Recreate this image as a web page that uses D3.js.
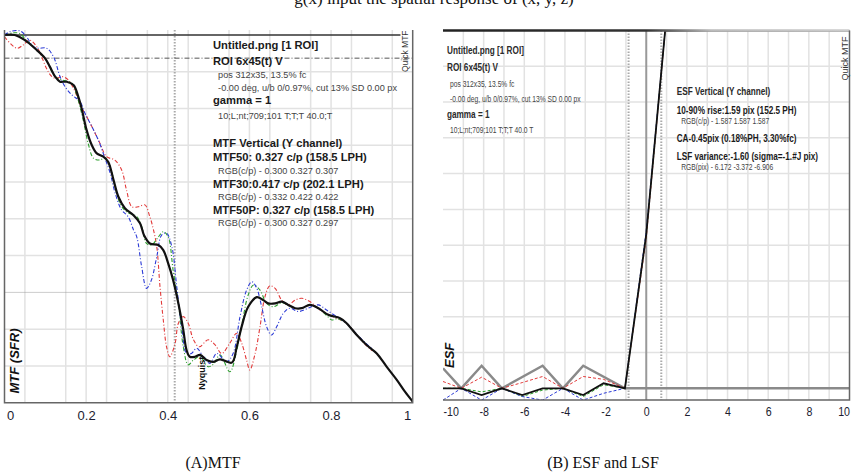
<!DOCTYPE html>
<html>
<head>
<meta charset="utf-8">
<script src="https://cdn.jsdelivr.net/npm/d3@7"></script>
<style>
  body { margin: 0; background: #fff; }
  text { font-family: "Liberation Sans", Arial, sans-serif; }
  .serif { font-family: "Liberation Serif", "Times New Roman", serif; fill: #111; }
  .grid { stroke: #e2e2e2; stroke-width: 1.5; fill: none; }
  .border { stroke: #666; stroke-width: 1.5; fill: none; }
  .tick text { fill: #1c1c30; font-size: 13px; }
  .bold { font-weight: bold; font-size: 11px; fill: #1a1a1a; }
  .reg { font-weight: bold; font-size: 11px; fill: #2a2a2a; }
  .small { font-size: 9px; fill: #444; }
</style>
</head>
<body>
<svg id="chart" width="863" height="476"></svg>
<script>
// ---- MTF (A) : [cycles/pixel, MTF]
const mtfLuma = [[0,1.0],[0.025,1.0],[0.05,0.986],[0.079,0.959],[0.099,0.937],[0.111,0.914],[0.124,0.887],[0.136,0.873],[0.152,0.873],[0.169,0.864],[0.181,0.832],[0.189,0.80],[0.201,0.742],[0.214,0.70],[0.226,0.678],[0.242,0.669],[0.254,0.655],[0.267,0.606],[0.279,0.56],[0.295,0.529],[0.316,0.51],[0.332,0.488],[0.342,0.455],[0.356,0.433],[0.377,0.429],[0.389,0.415],[0.401,0.379],[0.413,0.334],[0.426,0.27],[0.438,0.198],[0.446,0.143],[0.454,0.125],[0.467,0.125],[0.479,0.13],[0.495,0.116],[0.511,0.111],[0.528,0.118],[0.557,0.109],[0.569,0.152],[0.581,0.207],[0.597,0.261],[0.618,0.287],[0.634,0.279],[0.646,0.27],[0.663,0.27],[0.679,0.275],[0.695,0.266],[0.712,0.257],[0.728,0.257],[0.748,0.266],[0.769,0.257],[0.793,0.239],[0.822,0.23],[0.838,0.216],[0.863,0.184],[0.887,0.157],[0.912,0.134],[0.936,0.098],[0.961,0.062],[0.981,0.03],[1.0,0.003]]
const mtfRed = [[0,0.995],[0.03,0.964],[0.046,0.973],[0.062,0.986],[0.079,0.968],[0.091,0.941],[0.103,0.909],[0.116,0.887],[0.128,0.882],[0.14,0.887],[0.156,0.878],[0.173,0.846],[0.185,0.81],[0.197,0.787],[0.214,0.751],[0.234,0.705],[0.25,0.669],[0.27,0.66],[0.287,0.633],[0.299,0.578],[0.312,0.533],[0.328,0.533],[0.344,0.538],[0.356,0.506],[0.365,0.47],[0.373,0.424],[0.381,0.315],[0.389,0.225],[0.397,0.152],[0.405,0.125],[0.418,0.162],[0.426,0.216],[0.438,0.234],[0.45,0.216],[0.463,0.171],[0.477,0.152],[0.499,0.171],[0.516,0.157],[0.532,0.134],[0.552,0.162],[0.569,0.189],[0.581,0.162],[0.593,0.116],[0.601,0.089],[0.614,0.134],[0.626,0.207],[0.638,0.288],[0.65,0.318],[0.663,0.311],[0.679,0.279],[0.695,0.266],[0.712,0.279],[0.728,0.284],[0.748,0.275],[0.773,0.252],[0.805,0.234],[0.838,0.216],[0.863,0.184],[0.887,0.155],[0.9,0.142]]
const mtfGreen = [[0,1.0],[0.022,1.006],[0.038,1.004],[0.05,0.99],[0.079,0.959],[0.099,0.937],[0.124,0.887],[0.14,0.878],[0.165,0.869],[0.176,0.84],[0.193,0.768],[0.205,0.705],[0.218,0.665],[0.234,0.66],[0.246,0.667],[0.259,0.642],[0.271,0.587],[0.283,0.542],[0.299,0.519],[0.324,0.506],[0.336,0.479],[0.348,0.433],[0.36,0.429],[0.377,0.451],[0.389,0.465],[0.401,0.451],[0.413,0.361],[0.426,0.27],[0.438,0.152],[0.45,0.103],[0.463,0.116],[0.479,0.125],[0.499,0.098],[0.512,0.105],[0.528,0.13],[0.552,0.084],[0.569,0.143],[0.581,0.21],[0.597,0.293],[0.61,0.32],[0.626,0.306],[0.642,0.27],[0.659,0.261],[0.679,0.272],[0.695,0.266],[0.712,0.257],[0.728,0.257],[0.748,0.266],[0.769,0.257],[0.79,0.236],[0.802,0.225],[0.815,0.228],[0.838,0.216],[0.863,0.184],[0.887,0.157],[0.9,0.145]]
const mtfBlue = [[0,1.0],[0.013,1.009],[0.038,1.011],[0.054,0.995],[0.071,0.968],[0.083,0.964],[0.103,0.964],[0.12,0.941],[0.136,0.887],[0.148,0.86],[0.165,0.837],[0.185,0.819],[0.197,0.787],[0.214,0.751],[0.23,0.714],[0.246,0.665],[0.259,0.624],[0.271,0.57],[0.287,0.524],[0.303,0.506],[0.316,0.47],[0.324,0.451],[0.336,0.37],[0.348,0.311],[0.36,0.334],[0.373,0.397],[0.385,0.456],[0.397,0.461],[0.41,0.424],[0.422,0.315],[0.434,0.207],[0.446,0.134],[0.458,0.134],[0.471,0.148],[0.487,0.125],[0.503,0.107],[0.52,0.134],[0.544,0.111],[0.56,0.134],[0.577,0.234],[0.593,0.306],[0.606,0.329],[0.618,0.311],[0.63,0.261],[0.642,0.207],[0.654,0.184],[0.667,0.207],[0.683,0.243],[0.699,0.257],[0.72,0.248],[0.748,0.259],[0.769,0.266],[0.789,0.252],[0.814,0.234],[0.838,0.216],[0.863,0.186],[0.887,0.16],[0.9,0.148]]
const mtfTicks = [0, 0.2, 0.4, 0.6, 0.8, 1]
const mtf30 = 0.417

// ---- ESF / LSF (B) : pixels
const esfX = [-10, -9.1, -8.1, -7.1, -6.1, -5.1, -4.1, -3.1, -2.1, -1.05, 0, 0.93, 10]
const esfLuma = [0, 0, -0.019, 0, -0.019, 0, 0, -0.019, 0.014, 0, 0.43, 1.0, 1.0]
const esfRed = [0.019, 0, 0.031, 0, 0.016, 0.033, 0, 0.033, 0.025, 0, 0.42, 1.0, 1.0]
const esfGreen = [0, 0, -0.01, 0, -0.023, -0.005, 0, -0.023, 0.01, 0, 0.43, 1.0, 1.0]
const esfBlue = [-0.033, 0, -0.033, 0, -0.023, -0.033, 0, -0.033, -0.014, 0, 0.44, 1.0, 1.0]
const lsfX = [-10, -9.1, -8.1, -7.1, -5.1, -4.1, -3.1, -1.05, 10]
const lsfVal = [0.056, 0, 0.063, 0, 0.063, 0, 0.063, 0, 0]
const esfTicks = [-10, -8, -6, -4, -2, 0, 2, 4, 6, 8, 10]
const rise10 = -0.87, rise90 = 0.74

const textA = [
  { t: 'Untitled.png [1 ROI]', y: 49, c: 'bold' },
  { t: 'ROI 6x45(t) V', y: 65, c: 'bold' },
  { t: 'pos 312x35, 13.5% fc', y: 78.5, c: 'small', dx: 5 },
  { t: '-0.00 deg, u/b 0/0.97%, cut 13%  SD 0.00 px', y: 91.5, c: 'small', dx: 5 },
  { t: 'gamma = 1', y: 104, c: 'bold' },
  { t: '10;L;nt;709;101 T;T;T 40.0;T', y: 119.5, c: 'small', dx: 5 },
  { t: 'MTF Vertical (Y channel)', y: 147, c: 'bold' },
  { t: 'MTF50: 0.327 c/p (158.5 LPH)', y: 161.5, c: 'bold' },
  { t: 'RGB(c/p) - 0.300 0.327 0.307', y: 174, c: 'small', dx: 5 },
  { t: 'MTF30:0.417 c/p (202.1 LPH)', y: 188, c: 'bold' },
  { t: 'RGB(c/p) - 0.332 0.422 0.422', y: 200, c: 'small', dx: 5 },
  { t: 'MTF50P: 0.327 c/p (158.5 LPH)', y: 214.5, c: 'bold' },
  { t: 'RGB(c/p) - 0.300 0.327 0.297', y: 226, c: 'small', dx: 5 }
]
const textB1 = [
  { t: 'Untitled.png [1 ROI]', y: 54, c: 'reg' },
  { t: 'ROI 6x45(t) V', y: 71, c: 'reg' },
  { t: 'pos 312x35, 13.5% fc', y: 87, c: 'small', dx: 4 },
  { t: '-0.00 deg, u/b 0/0.97%, cut 13%  SD 0.00 px', y: 102, c: 'small', dx: 4 },
  { t: 'gamma = 1', y: 118.5, c: 'reg' },
  { t: '10;L;nt;709;101 T;T;T 40.0 T', y: 133.5, c: 'small', dx: 4 }
]
const textB2 = [
  { t: 'ESF Vertical (Y channel)', y: 95.5, c: 'reg' },
  { t: '10-90% rise:1.59 pix (152.5 PH)', y: 114, c: 'bold' },
  { t: 'RGB(c/p) - 1.587 1.587 1.587', y: 124, c: 'small', dx: 6 },
  { t: 'CA-0.45pix (0.18%PH, 3.30%fc)', y: 142, c: 'bold' },
  { t: 'LSF variance:-1.60 (sigma=-1.#J pix)', y: 160, c: 'bold' },
  { t: 'RGB(pix) - 6.172 -3.372 -6.906', y: 170, c: 'small', dx: 6 }
]

const svg = d3.select('#chart')
const dashDot = '4,2,1,2'

// top line cut off from the page above
svg.append('text').attr('class', 'serif').attr('x', 434).attr('y', 4)
  .attr('text-anchor', 'middle').style('font-size', '17px')
  .text('g(x) input the spatial response of (x, y, z)')

function textBlock(x, lines, refIndex, refWidth) {
  const g = svg.append('g')
  lines.forEach(l => g.append('text').attr('class', l.c).attr('x', l.dx || 0).attr('y', l.y).text(l.t))
  const w = g.selectAll('text').nodes()[refIndex].getComputedTextLength()
  g.attr('transform', `translate(${x},0) scale(${refWidth / w},1)`)
}

// ================= Panel A : MTF =================
const xA = d3.scaleLinear().domain([0, 1]).range([4.5, 412.7])
const yA = d3.scaleLinear().domain([0, 1]).range([402.7, 35])
const topA = 30

const gA = svg.append('g')
gA.append('defs').append('clipPath').attr('id', 'clip-mtf')
  .append('rect').attr('x', xA(0)).attr('y', topA).attr('width', xA(1) - xA(0)).attr('height', yA(0) - topA)

const vGridA = d3.range(1, 20).map(i => i / 20).filter((v, i) => (i + 1) % 4 !== 2)
gA.selectAll('.vgridA').data(vGridA).enter().append('path')
  .attr('class', 'grid').attr('d', v => `M ${xA(v)} ${topA} V ${yA(0)}`)
gA.selectAll('.hgridA').data(d3.range(1, 10).map(i => i / 10).filter(v => Math.abs(v - 0.3) > 1e-6)).enter().append('path')
  .attr('class', 'grid').attr('d', v => `M ${xA(0)} ${yA(v)} H ${xA(1)}`)

// reference lines
gA.append('path').attr('d', `M ${xA(0)} ${yA(0.3)} H ${xA(1)}`)
  .attr('stroke', '#999').attr('stroke-width', 1).attr('stroke-dasharray', '1,1')
gA.append('path').attr('d', `M ${xA(mtf30)} ${topA} V ${yA(0)}`)
  .attr('stroke', '#aaa').attr('stroke-width', 2).attr('stroke-dasharray', '1.5,1.5')
gA.append('path').attr('d', `M ${xA(0)} ${yA(0.937)} H ${xA(1)}`)
  .attr('stroke', '#555').attr('stroke-width', 1).attr('stroke-dasharray', '5,2,1,2')
gA.append('path').attr('d', `M ${xA(0)} ${yA(1)} H ${xA(0.97)}`)
  .attr('stroke', '#333').attr('stroke-width', 1.5)

textBlock(213, textA, 7, 154)

const lineA = d3.line().x(d => xA(d[0])).y(d => yA(d[1])).curve(d3.curveCatmullRom.alpha(0.5))
const curvesA = gA.append('g').attr('clip-path', 'url(#clip-mtf)')
;[[mtfRed, '#e23a3a'], [mtfGreen, '#2c9e2c'], [mtfBlue, '#2b3ad6']].forEach(([d, c]) => {
  curvesA.append('path').datum(d).attr('d', lineA).attr('fill', 'none')
    .attr('stroke', c).attr('stroke-width', 1.1).attr('stroke-dasharray', dashDot)
})
curvesA.append('path').datum(mtfLuma).attr('d', lineA).attr('fill', 'none')
  .attr('stroke', '#111').attr('stroke-width', 2.2)

// borders
gA.append('path').attr('class', 'border').attr('d', `M ${xA(0)} ${topA} V ${yA(0)} H ${xA(1)} V ${topA}`)

const axA = gA.append('g').attr('transform', `translate(0,${yA(0)})`)
  .call(d3.axisBottom(xA).tickValues(mtfTicks).tickSize(0).tickPadding(8).tickFormat(d3.format('~g')))
axA.select('.domain').remove()
axA.selectAll('.tick text').attr('font-family', null).attr('font-size', null)
  .attr('text-anchor', d => d === 0 ? 'start' : d === 1 ? 'end' : 'middle')
  .attr('dx', d => d === 0 ? 2 : d === 1 ? -2 : 0)

gA.append('text').attr('transform', `translate(19,${yA(0.025)}) rotate(-90)`)
  .style('font-size', '13px').style('font-weight', 'bold').style('font-style', 'italic').attr('fill', '#111')
  .text('MTF (SFR)')
gA.append('text').attr('transform', `translate(204.5,${yA(0.035)}) rotate(-90)`)
  .style('font-size', '9px').style('font-weight', 'bold').attr('fill', '#111')
  .text('Nyquist')
gA.append('text').attr('transform', `translate(408,${topA + 42}) rotate(-90)`)
  .style('font-size', '8.5px').attr('fill', '#333')
  .text('Quick MTF')

// ================= Panel B : ESF / LSF =================
const xB = d3.scaleLinear().domain([-10, 10]).range([443, 849.5])
const yB = d3.scaleLinear().domain([0, 1]).range([388.3, 30.5])
const botB = 400

const gB = svg.append('g')
const defsB = gB.append('defs')
defsB.append('clipPath').attr('id', 'clip-esf')
  .append('rect').attr('x', xB(-10)).attr('y', yB(1)).attr('width', xB(10) - xB(-10)).attr('height', botB - yB(1))
const grad = defsB.append('linearGradient').attr('id', 'topfade').attr('gradientUnits', 'userSpaceOnUse')
  .attr('x1', xB(-10)).attr('x2', xB(10)).attr('y1', 0).attr('y2', 0)
grad.append('stop').attr('offset', 0).attr('stop-color', '#222')
grad.append('stop').attr('offset', 0.5).attr('stop-color', '#333')
grad.append('stop').attr('offset', 0.66).attr('stop-color', '#bbb')
grad.append('stop').attr('offset', 1).attr('stop-color', '#ccc')

gB.selectAll('.vgridB').data(d3.range(-9, 10).filter(v => v !== 0)).enter().append('path')
  .attr('class', 'grid').attr('d', v => `M ${xB(v)} ${yB(1)} V ${botB}`)
gB.selectAll('.hgridB').data(d3.range(1, 10).map(i => i / 10)).enter().append('path')
  .attr('class', 'grid').attr('d', v => `M ${xB(-10)} ${yB(v)} H ${xB(10)}`)

;[rise10, rise90].forEach(v => {
  gB.append('path').attr('d', `M ${xB(v)} ${yB(1)} V ${botB}`)
    .attr('stroke', '#aaa').attr('stroke-width', 2).attr('stroke-dasharray', '1.5,1.5')
})
gB.append('path').attr('d', `M ${xB(0)} ${yB(1)} V ${botB}`).attr('stroke', '#999').attr('stroke-width', 2)

textBlock(447, textB1, 0, 77)
textBlock(676.7, textB2, 1, 120)

const lineB = d3.line().x(d => xB(d[0])).y(d => yB(d[1]))
const curvesB = gB.append('g').attr('clip-path', 'url(#clip-esf)')
curvesB.append('path').datum(lsfX.map((x, i) => [x, lsfVal[i]])).attr('d', lineB).attr('fill', 'none')
  .attr('stroke', '#8a8a8a').attr('stroke-width', 2.5)
;[[esfRed, '#e23a3a'], [esfGreen, '#2c9e2c'], [esfBlue, '#2b3ad6']].forEach(([d, c]) => {
  curvesB.append('path').datum(esfX.map((x, i) => [x, d[i]])).attr('d', lineB).attr('fill', 'none')
    .attr('stroke', c).attr('stroke-width', 1).attr('stroke-dasharray', '3,2')
})
curvesB.append('path').datum(esfX.map((x, i) => [x, esfLuma[i]])).attr('d', lineB).attr('fill', 'none')
  .attr('stroke', '#111').attr('stroke-width', 1.8)

gB.append('path').attr('d', `M ${xB(-10)} ${yB(1)} H ${xB(10)}`).attr('stroke', 'url(#topfade)').attr('stroke-width', 2.5)
gB.append('path').attr('class', 'border').attr('d', `M ${xB(-10)} ${botB} H ${xB(10)} V ${yB(1)}`)

const axB = gB.append('g').attr('transform', `translate(0,${botB})`)
  .call(d3.axisBottom(xB).tickValues(esfTicks).tickSize(0).tickPadding(7).tickFormat(d => d))
axB.select('.domain').remove()
axB.selectAll('.tick text').attr('font-family', null).attr('font-size', null)
  .attr('text-anchor', d => d === -10 ? 'start' : d === 10 ? 'end' : 'middle')
  .attr('transform', 'scale(0.82,1)')

gB.append('text').attr('transform', `translate(454,368) rotate(-90)`)
  .style('font-size', '13px').style('font-weight', 'bold').style('font-style', 'italic').attr('fill', '#111')
  .text('ESF')
gB.append('text').attr('transform', `translate(848,${yB(1) + 50}) rotate(-90)`)
  .style('font-size', '9px').attr('fill', '#333')
  .text('Quick MTF')

// captions
svg.append('text').attr('class', 'serif').attr('x', 213).attr('y', 468).attr('text-anchor', 'middle')
  .style('font-size', '16px').text('(A)MTF')
svg.append('text').attr('class', 'serif').attr('x', 603).attr('y', 468).attr('text-anchor', 'middle')
  .style('font-size', '16px').text('(B) ESF and LSF')
</script>
</body>
</html>
